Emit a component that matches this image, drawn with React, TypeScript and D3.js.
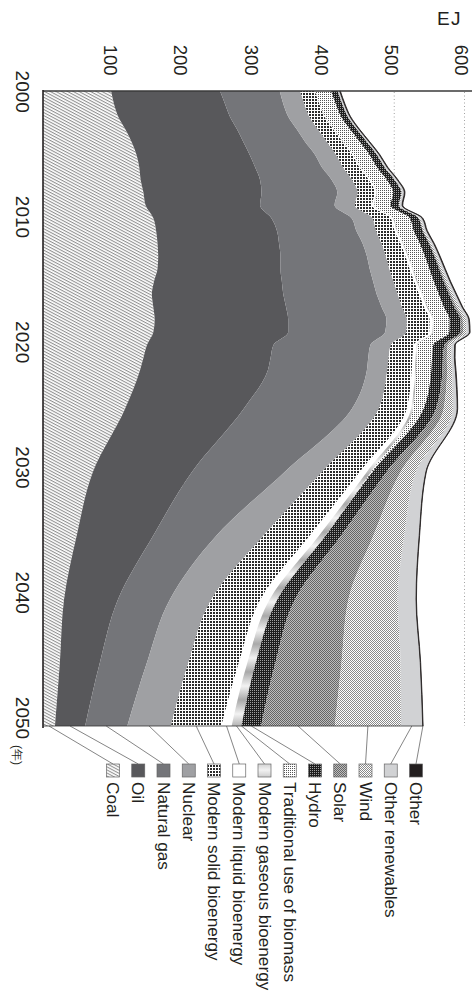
import React, { useRef, useEffect } from "react";
import * as d3 from "d3";

// energy supply by source, EJ
const years = [
  2000, 2001, 2002, 2003, 2004, 2005, 2006, 2007, 2008, 2009, 2010, 2011, 2012,
  2013, 2014, 2015, 2016, 2017, 2018, 2019, 2020, 2021, 2022, 2025, 2030, 2035,
  2040, 2045, 2050,
];
const coal = [97, 101, 107, 117, 126, 133, 137, 139, 143, 146, 157, 161, 163, 164, 163, 158, 155, 157, 159, 157, 148, 143, 138, 117, 71, 48, 30, 24, 17];
const oil = [155, 158, 159, 159, 159, 161, 165, 170, 168, 163, 168, 172, 173, 174, 175, 182, 187, 189, 190, 192, 180, 181, 182, 169, 141, 109, 77, 57, 43];
const naturalGas = [85, 83, 83, 85, 88, 93, 95, 102, 108, 106, 114, 113, 119, 123, 127, 130, 133, 136, 140, 138, 138, 139, 141, 154, 132, 90, 74, 67, 60];
const nuclear = [29, 30, 30, 30, 31, 30, 30, 29, 29, 29, 30, 28, 27, 27, 28, 29, 30, 29, 29, 30, 29, 29, 29, 38, 53, 67, 59, 59, 62];
const modernSolid = [21, 21.3, 21.6, 22, 22.5, 23, 23.5, 24, 24.5, 24.5, 26, 26.5, 27, 28, 29, 29.5, 30.5, 31.5, 32.5, 33, 33, 34, 35, 40, 54, 66, 70, 72, 72];
const modernLiquid = [0.4, 0.5, 0.6, 0.7, 0.9, 1.1, 1.4, 1.8, 2.2, 2.4, 2.8, 2.9, 3, 3.2, 3.5, 3.6, 3.7, 3.9, 4.1, 4.3, 3.9, 4.2, 4.5, 6, 10, 13, 13, 12, 14.5];
const modernGaseous = [0.2, 0.2, 0.3, 0.3, 0.4, 0.4, 0.5, 0.6, 0.7, 0.8, 0.9, 1, 1.1, 1.2, 1.3, 1.3, 1.4, 1.4, 1.5, 1.5, 1.5, 1.6, 1.8, 3, 6, 9, 11, 12, 14];
const traditional = [22.5, 22.6, 22.7, 22.8, 22.9, 23, 23, 23.1, 23.2, 23.2, 23.3, 23.3, 23.3, 23.2, 23.1, 23, 22.9, 22.8, 22.7, 22.6, 22.2, 22, 21.5, 15, 2, 0.5, 0, 0, 0];
const hydro = [9.4, 9.3, 9.5, 9.6, 10.1, 10.5, 10.8, 11, 11.5, 11.6, 12.4, 12.6, 13.1, 13.4, 13.9, 14, 14.5, 14.8, 15.1, 15.2, 15.6, 15.5, 15.9, 17.5, 20, 22, 25, 28, 28];
const solar = [0.2, 0.2, 0.2, 0.2, 0.3, 0.3, 0.3, 0.4, 0.5, 0.6, 0.8, 1, 1.3, 1.5, 1.8, 2.3, 2.7, 3.2, 3.7, 4.3, 4.9, 5.6, 6.5, 11, 20, 46, 76, 94, 105];
const wind = [0.1, 0.1, 0.2, 0.2, 0.3, 0.4, 0.5, 0.6, 0.8, 1, 1.2, 1.6, 1.9, 2.3, 2.6, 3, 3.4, 4, 4.5, 5.1, 5.7, 6.4, 7.3, 13, 22, 44, 70, 84, 94];
const otherRenewables = [2.5, 2.5, 2.6, 2.6, 2.7, 2.7, 2.8, 2.9, 2.9, 3, 3.1, 3.2, 3.3, 3.4, 3.5, 3.6, 3.7, 3.8, 3.9, 4, 4.1, 4.3, 4.5, 6, 14, 21, 26, 28, 31];
const other = [1, 1, 1, 1, 1, 1, 1, 1, 1, 1, 1, 1, 1, 1, 1, 1, 1, 1, 1, 1, 1, 1, 1, 0.8, 0.6, 0.6, 0.6, 0.6, 0.6];

const seriesNames = [
  "Coal", "Oil", "Natural gas", "Nuclear", "Modern solid bioenergy",
  "Modern liquid bioenergy", "Modern gaseous bioenergy", "Traditional use of biomass",
  "Hydro", "Solar", "Wind", "Other renewables", "Other",
];
const seriesValues = [
  coal, oil, naturalGas, nuclear, modernSolid, modernLiquid, modernGaseous,
  traditional, hydro, solar, wind, otherRenewables, other,
];
const valueTicks = [100, 200, 300, 400, 500, 600];
const yearTicks = [2000, 2010, 2020, 2030, 2040, 2050];
const unitLabel = "EJ";
const yearUnit = "(年)";

const FONT = "'Liberation Sans', Arial, Helvetica, sans-serif";
const INK = "#231f20";

const fills = [
  "url(#p-coal)", "#58585b", "#747579", "#9fa0a3", "url(#p-solid)", "#ffffff",
  "url(#g-gas)", "url(#p-trad)", "url(#p-hydro)", "url(#p-solar)", "url(#p-wind)",
  "#d1d2d4", "#231f20",
];

const EnergyChart = () => {
  const ref = useRef(null);

  useEffect(() => {
    const svg = d3.select(ref.current);
    svg.selectAll("*").remove();

    const width = 474;
    const height = 998;
    svg.attr("width", width).attr("height", height);

    const defs = svg.append("defs");

    // diagonal hatch for coal
    const hatch = defs
      .append("pattern")
      .attr("id", "p-coal")
      .attr("patternUnits", "userSpaceOnUse")
      .attr("width", 4)
      .attr("height", 2.7)
      .attr("patternTransform", "rotate(28)");
    hatch.append("rect").attr("width", 4).attr("height", 2.7).attr("fill", "#fff");
    hatch
      .append("line")
      .attr("x1", 0).attr("x2", 4).attr("y1", 0.6).attr("y2", 0.6)
      .attr("stroke", "#2e2e2e").attr("stroke-width", 0.6);

    // small pixel patterns
    const pix = (id, size, bg, cells) => {
      const p = defs
        .append("pattern")
        .attr("id", id)
        .attr("patternUnits", "userSpaceOnUse")
        .attr("width", size)
        .attr("height", size);
      p.append("rect").attr("width", size).attr("height", size).attr("fill", bg);
      cells.forEach(([cx, cy, s, c]) => {
        p.append("rect").attr("x", cx).attr("y", cy).attr("width", s).attr("height", s).attr("fill", c);
      });
    };
    pix("p-solid", 3, "#ffffff", [[0, 0, 2, "#2b2b2b"]]);
    pix("p-trad", 2, "#ffffff", [[0, 0, 1, "#555"]]);
    pix("p-hydro", 2, "#1e1e1e", [[0, 0, 1, "#a0a0a0"]]);
    pix("p-solar", 2, "#bdbdbd", [[0, 0, 1, "#666"], [1, 1, 1, "#666"]]);
    pix("p-wind", 2, "#ffffff", [[0, 0, 1, "#8a8a8a"], [1, 1, 1, "#8a8a8a"]]);

    const grad = defs
      .append("linearGradient")
      .attr("id", "g-gas")
      .attr("gradientUnits", "userSpaceOnUse")
      .attr("x1", 0).attr("y1", 0).attr("x2", 0).attr("y2", 14)
      .attr("spreadMethod", "reflect");
    grad.append("stop").attr("offset", "0%").attr("stop-color", "#a9a9a9");
    grad.append("stop").attr("offset", "100%").attr("stop-color", "#f2f2f2");

    // rotated layout: years run down the page, EJ runs to the right
    const x = d3.scaleLinear().domain([0, 600]).range([43, 464.5]);
    const y = d3.scaleLinear().domain([2000, 2050]).range([91, 726]);
    const yLabel = d3.scaleLinear().domain([2000, 2050]).range([91.7, 718]);

    const rows = years.map((yr, i) => {
      const row = { year: yr };
      seriesNames.forEach((name, k) => (row[name] = seriesValues[k][i]));
      return row;
    });
    const stacked = d3.stack().keys(seriesNames)(rows);

    // dotted gridlines
    svg
      .append("g")
      .selectAll("line")
      .data(valueTicks)
      .join("line")
      .attr("x1", (d) => x(d))
      .attr("x2", (d) => x(d))
      .attr("y1", 92)
      .attr("y2", 726)
      .attr("stroke", "#8c8c8c")
      .attr("stroke-width", 0.8)
      .attr("stroke-dasharray", "1,2.5");

    const area = d3
      .area()
      .y((d) => y(d.data.year))
      .x0((d) => x(d[0]))
      .x1((d) => x(d[1]))
      .curve(d3.curveMonotoneY);

    svg
      .append("g")
      .selectAll("path")
      .data(stacked)
      .join("path")
      .attr("d", area)
      .attr("fill", (d, i) => fills[i])
      .attr("stroke", (d, i) => (i === seriesNames.length - 1 ? INK : "none"))
      .attr("stroke-width", 0.8);

    // axes
    svg
      .append("line")
      .attr("x1", 43).attr("x2", 472).attr("y1", 91).attr("y2", 91)
      .attr("stroke", "#3a3a3a").attr("stroke-width", 1.3);
    svg
      .append("line")
      .attr("x1", 43).attr("x2", 43).attr("y1", 90).attr("y2", 728)
      .attr("stroke", INK).attr("stroke-width", 1.6);
    const last = stacked[stacked.length - 1];
    const lastRow = last[last.length - 1];
    svg
      .append("line")
      .attr("x1", 43).attr("x2", x(lastRow[1])).attr("y1", y(2050)).attr("y2", y(2050))
      .attr("stroke", "#333").attr("stroke-width", 0.8);

    const rotText = (g, tx, ty, txt, size, anchor) =>
      g
        .append("text")
        .attr("transform", `translate(${tx},${ty}) rotate(90)`)
        .attr("text-anchor", anchor)
        .attr("dominant-baseline", "central")
        .attr("font-family", FONT)
        .attr("font-size", size)
        .attr("fill", INK)
        .text(txt);

    const labels = svg.append("g");
    valueTicks.forEach((v) => rotText(labels, x(v) - 2.7, 75.5, String(v), 18.5, "end"));
    yearTicks.forEach((yr) => rotText(labels, 22, yLabel(yr), String(yr), 19, "middle"));
    rotText(labels, 17, 755, yearUnit, 12, "middle");

    svg
      .append("text")
      .attr("x", 449.5)
      .attr("y", 25)
      .attr("text-anchor", "middle")
      .attr("font-family", FONT)
      .attr("font-size", 19)
      .attr("letter-spacing", 1.5)
      .attr("fill", INK)
      .text(unitLabel);

    // legend with leader lines
    const lx = d3.scalePoint().domain(seriesNames).range([113, 416]);
    const box = 13;
    const boxTop = 764;
    const legend = svg.append("g");
    stacked.forEach((s, i) => {
      const name = seriesNames[i];
      const end = s[s.length - 1];
      legend
        .append("line")
        .attr("x1", x((end[0] + end[1]) / 2))
        .attr("y1", y(2050))
        .attr("x2", lx(name))
        .attr("y2", boxTop)
        .attr("stroke", "#333")
        .attr("stroke-width", 0.6);
      legend
        .append("rect")
        .attr("x", lx(name) - box / 2)
        .attr("y", boxTop)
        .attr("width", box)
        .attr("height", box)
        .attr("fill", fills[i])
        .attr("stroke", "#666")
        .attr("stroke-width", 0.7);
      rotText(legend, lx(name), 782, name, 17.2, "start");
    });
  }, []);

  return (
    <svg
      ref={ref}
      style={{ position: "absolute", left: 0, top: 0, display: "block", background: "#fff" }}
    ></svg>
  );
};

export default function App() {
  return <EnergyChart />;
}
